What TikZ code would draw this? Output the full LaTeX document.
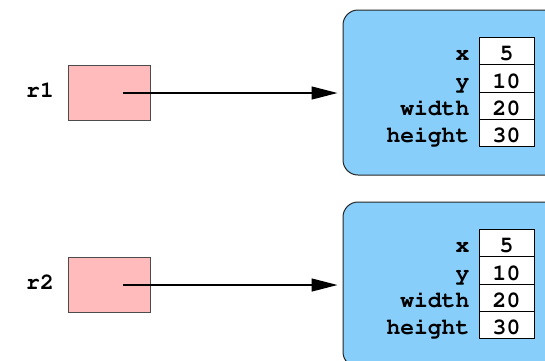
\documentclass[tikz,border=0pt]{standalone}
\usepackage[T1]{fontenc}
\usepackage{courier}
\usetikzlibrary{arrows.meta}
\definecolor{refpink}{RGB}{255,187,187}
\definecolor{objblue}{RGB}{135,206,250}
\begin{document}
\begin{tikzpicture}[x=1pt,y=-1pt,
  codefont/.style={font=\ttfamily\bfseries\fontsize{23}{26}\selectfont},
  refbox/.style={draw=black!70, fill=refpink, line width=1pt, minimum width=82pt, minimum height=55pt, inner sep=0pt},
  objbox/.style={draw=black!85, fill=objblue, line width=1pt, rounded corners=15pt, minimum width=240pt, minimum height=165pt, inner sep=0pt},
  valbox/.style={draw=black, fill=white, line width=1pt, minimum width=55pt, minimum height=27.3pt, inner sep=0pt, codefont, text height=19pt, text depth=0pt},
  fieldlbl/.style={anchor=east, inner sep=0pt, codefont, text height=19pt, text depth=0pt},
  varlbl/.style={anchor=base, inner sep=0pt, codefont},
  ptr/.style={line width=1.3pt, -{Triangle[length=26pt,width=13pt]}, shorten >=5pt}
]
\useasboundingbox (0,0) rectangle (545,360);
\clip (0,0) rectangle (545,360);
\foreach \k/\dy in {1/0,2/192}{
  \node[refbox] (r\k box) at (109,92.5+\dy) {};
  \node[varlbl] (r\k lbl) at (40,97+\dy) {r\k};
  \node[objbox] (obj\k) at (463,92.5+\dy) {};
  \node[valbox] (x\k) at (506.5,51.2+\dy) {5};
  \node[valbox] (y\k) at (506.5,78.5+\dy) {10};
  \node[valbox] (w\k) at (506.5,105.8+\dy) {20};
  \node[valbox] (h\k) at (506.5,133.1+\dy) {30};
  \node[fieldlbl] (xl\k) at (469.5,51.2+\dy) {x};
  \node[fieldlbl] (yl\k) at (469.5,78.5+\dy) {y};
  \node[fieldlbl] (wl\k) at (469.5,105.8+\dy) {width};
  \node[fieldlbl] (hl\k) at (469.5,133.1+\dy) {height};
  \coordinate (s\k) at ([xshift=14pt,yshift=-0.5pt]r\k box.center);
  \draw[ptr] (s\k) -- (s\k -| obj\k.west);
}
\end{tikzpicture}
\end{document}
